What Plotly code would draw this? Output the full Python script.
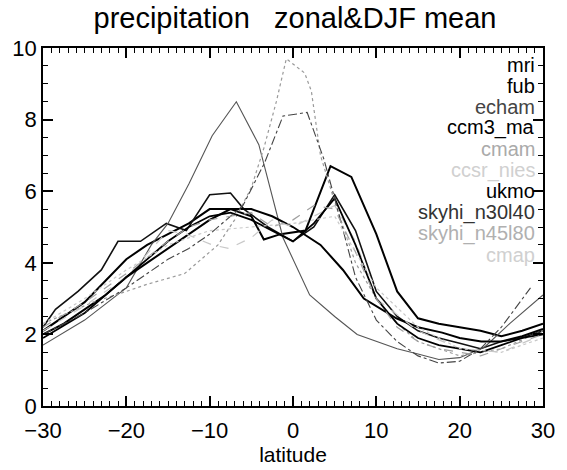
import plotly.graph_objects as go

# ---------------- data ----------------
mri_lat = [-30, -27.5, -25, -22.5, -20, -17.5, -15, -12.5, -10, -7.5, -5, -3.5, -1.5, 1.5, 4.5, 7, 10, 12.5, 15, 17.5, 20, 22.5, 25, 27.5, 30]
mri_pr = [2.1, 2.5, 2.9, 3.5, 4.1, 4.5, 4.8, 5.1, 5.5, 5.5, 5.3, 4.65, 4.8, 4.9, 6.7, 6.4, 4.8, 3.2, 2.45, 2.3, 2.2, 2.1, 1.95, 2.1, 2.3]

fub_lat = [-30, -28.5, -25.8, -23, -21, -18.3, -15.2, -12.8, -10, -7.5, -5.9, -3, 0, 2.5, 5, 7.5, 10, 12.5, 15, 17.5, 20, 22.5, 25, 27.5, 30]
fub_pr = [2.2, 2.7, 3.2, 3.8, 4.6, 4.6, 5.1, 4.9, 5.9, 5.95, 5.5, 5.0, 4.6, 5.0, 5.9, 4.9, 3.2, 2.5, 2.1, 1.9, 1.75, 1.6, 1.8, 1.9, 2.1]

echam_lat = [-30, -25, -20, -17, -15, -12.5, -9.7, -6.8, -4.1, -1.2, 2, 5, 7.7, 10, 12.5, 15, 17.5, 20, 23, 26, 30]
echam_pr = [1.7, 2.4, 3.3, 4.5, 5.1, 6.2, 7.55, 8.5, 7.3, 4.7, 3.1, 2.5, 2.0, 1.8, 1.6, 1.45, 1.3, 1.35, 1.65, 2.3, 3.1]

ccm3_lat = [-30, -27.5, -25, -22.5, -20, -17.5, -15, -12.5, -10, -7.5, -5, -2.5, 0, 3.3, 6, 8.5, 12.4, 15, 17.9, 20, 22.6, 25, 27.5, 30]
ccm3_pr = [2.0, 2.3, 2.7, 3.1, 3.6, 4.0, 4.4, 4.8, 5.2, 5.5, 5.5, 5.3, 5.0, 4.5, 3.8, 3.0, 2.45, 2.2, 2.05, 1.9, 1.8, 1.8, 1.95, 2.15]

cmam_lat = [-30, -24, -20, -17.5, -13, -11, -9, -7, -5, -3.5, -2, -0.8, 1.4, 2.2, 3.3, 5, 7.5, 10, 12.5, 15, 20, 25, 30]
cmam_pr = [2.3, 2.9, 3.2, 3.4, 3.7, 4.1, 4.5, 5.2, 6.1, 7.2, 8.5, 9.7, 9.3, 8.8, 7.0, 5.7, 4.0, 3.0, 2.3, 1.8, 1.4, 1.6, 2.1]

ccsr_lat = [-30, -25, -20, -15, -12.8, -9.7, -7.7, -5, -2.5, 0, 2.5, 5, 7.5, 10, 15, 20, 25, 30]
ccsr_pr = [2.1, 2.8, 3.6, 4.9, 4.8, 4.5, 4.4, 4.7, 5.2, 5.0, 5.3, 5.6, 4.6, 3.0, 2.1, 1.6, 1.5, 2.0]

ukmo_lat = [-30, -25, -20, -17.5, -15, -12.5, -10, -7.5, -5, -2.5, 0, 2.5, 5, 7.5, 10, 12.5, 15, 17.5, 20, 22.5, 25, 27.5, 30]
ukmo_pr = [1.9, 2.6, 3.6, 4.1, 4.6, 5.0, 5.3, 5.4, 5.2, 4.9, 4.6, 5.1, 5.8, 4.5, 3.0, 2.3, 1.9, 1.7, 1.6, 1.5, 1.7, 1.9, 2.0]

n30_lat = [-30, -25, -20, -15, -12.5, -10, -7.5, -6, -3.4, -1.2, 1.7, 2.5, 3.7, 5, 7.5, 10, 12.5, 15, 17.5, 20, 22.5, 25, 28.5]
n30_pr = [2.0, 2.6, 3.3, 4.1, 4.4, 4.8, 5.3, 5.6, 6.8, 8.1, 8.2, 7.7, 6.9, 5.8, 3.6, 2.4, 1.8, 1.4, 1.2, 1.25, 1.6, 2.2, 3.3]

n45_lat = [-30, -25, -20, -15, -12.5, -10, -7.5, -5, -2.5, 0, 2.5, 5, 7.5, 10, 12.5, 15, 17.5, 20, 22.5, 25, 27.5, 30]
n45_pr = [2.2, 2.9, 3.7, 4.6, 5.0, 5.2, 5.3, 5.4, 5.0, 5.2, 5.6, 5.5, 4.3, 3.0, 2.2, 1.8, 1.6, 1.5, 1.4, 1.6, 1.8, 2.0]

cmap_lat = [-30, -25, -20, -15, -10, -5, 0, 5, 10, 15, 20, 25, 30]
cmap_pr = [2.3, 3.0, 3.8, 4.5, 4.9, 5.0, 5.1, 5.3, 3.3, 2.2, 1.6, 1.5, 1.9]

names = ["mri", "fub", "echam", "ccm3_ma", "cmam", "ccsr_nies", "ukmo",
         "skyhi_n30l40", "skyhi_n45l80", "cmap"]
lats = [mri_lat, fub_lat, echam_lat, ccm3_lat, cmam_lat, ccsr_lat, ukmo_lat,
        n30_lat, n45_lat, cmap_lat]
prs = [mri_pr, fub_pr, echam_pr, ccm3_pr, cmam_pr, ccsr_pr, ukmo_pr,
       n30_pr, n45_pr, cmap_pr]

x_ticks = [-30, -20, -10, 0, 10, 20, 30]
y_ticks = [0, 2, 4, 6, 8, 10]

# ---------------- styles ----------------
colors = ["#000000", "#111111", "#555555", "#000000", "#9a9a9a", "#c8c8c8",
          "#000000", "#444444", "#a0a0a0", "#c8c8c8"]
widths = [2.0, 1.6, 1.1, 2.0, 1.2, 1.2, 1.8, 1.1, 1.2, 1.2]
dashes = ["solid", "solid", "solid", "solid", "dot", "dash", "solid",
          "dashdot", "dash", "dot"]
label_colors = ["#000000", "#000000", "#444444", "#000000", "#aaaaaa",
                "#d0d0d0", "#000000", "#333333", "#b0b0b0", "#d0d0d0"]

fig = go.Figure()
for n, xl, yl, c, w, d in zip(names, lats, prs, colors, widths, dashes):
    fig.add_trace(go.Scatter(x=xl, y=yl, mode="lines", name=n,
                             line=dict(color=c, width=w, dash=d),
                             showlegend=False))

# plot area in pixels
W, H = 567, 470
L, R, T, B = 41, 549, 48, 416

# legend as right-aligned texts inside the plot
step = 21.7
first = 65
for i, (n, lc) in enumerate(zip(names, label_colors)):
    py = first + i * step
    fig.add_annotation(xref="paper", yref="paper",
                       x=(542 - L) / (R - L), y=(B - py) / (B - T),
                       text=n, showarrow=False, xanchor="right",
                       yanchor="middle", borderpad=0,
                       font=dict(family="Liberation Sans, Arial", size=20,
                                 color=lc))

fig.update_layout(
    width=W, height=H,
    margin=dict(l=L, r=W - R, t=T, b=H - B, pad=0),
    paper_bgcolor="white", plot_bgcolor="white",
    title=dict(text="precipitation   zonal&DJF mean", x=(L + R) / 2 / W,
               xanchor="center", y=1 - 18 / H, yanchor="middle",
               font=dict(family="Liberation Sans, Arial", size=29,
                         color="black")),
    font=dict(family="Liberation Sans, Arial", size=22, color="black"),
)
fig.update_xaxes(range=[-30, 30], tickvals=x_ticks, ticks="inside",
                 ticklen=10, tickwidth=1.5, tickcolor="black",
                 showline=True, linecolor="black", linewidth=1.8,
                 mirror="allticks", showgrid=False, zeroline=False,
                 ticklabelstandoff=4,
                 minor=dict(dtick=1, ticks="inside", ticklen=5,
                            tickcolor="black", tickwidth=1, showgrid=False),
                 title=dict(text="latitude", standoff=0,
                            font=dict(size=21)),
                 tickfont=dict(size=22))
fig.update_yaxes(range=[0, 10], tickvals=y_ticks, ticks="inside",
                 ticklen=10, tickwidth=1.5, tickcolor="black",
                 showline=True, linecolor="black", linewidth=1.8,
                 mirror="allticks", showgrid=False, zeroline=False,
                 minor=dict(dtick=0.5, ticks="inside", ticklen=5,
                            tickcolor="black", tickwidth=1, showgrid=False),
                 tickfont=dict(size=22))

fig.write_html("out.html")
